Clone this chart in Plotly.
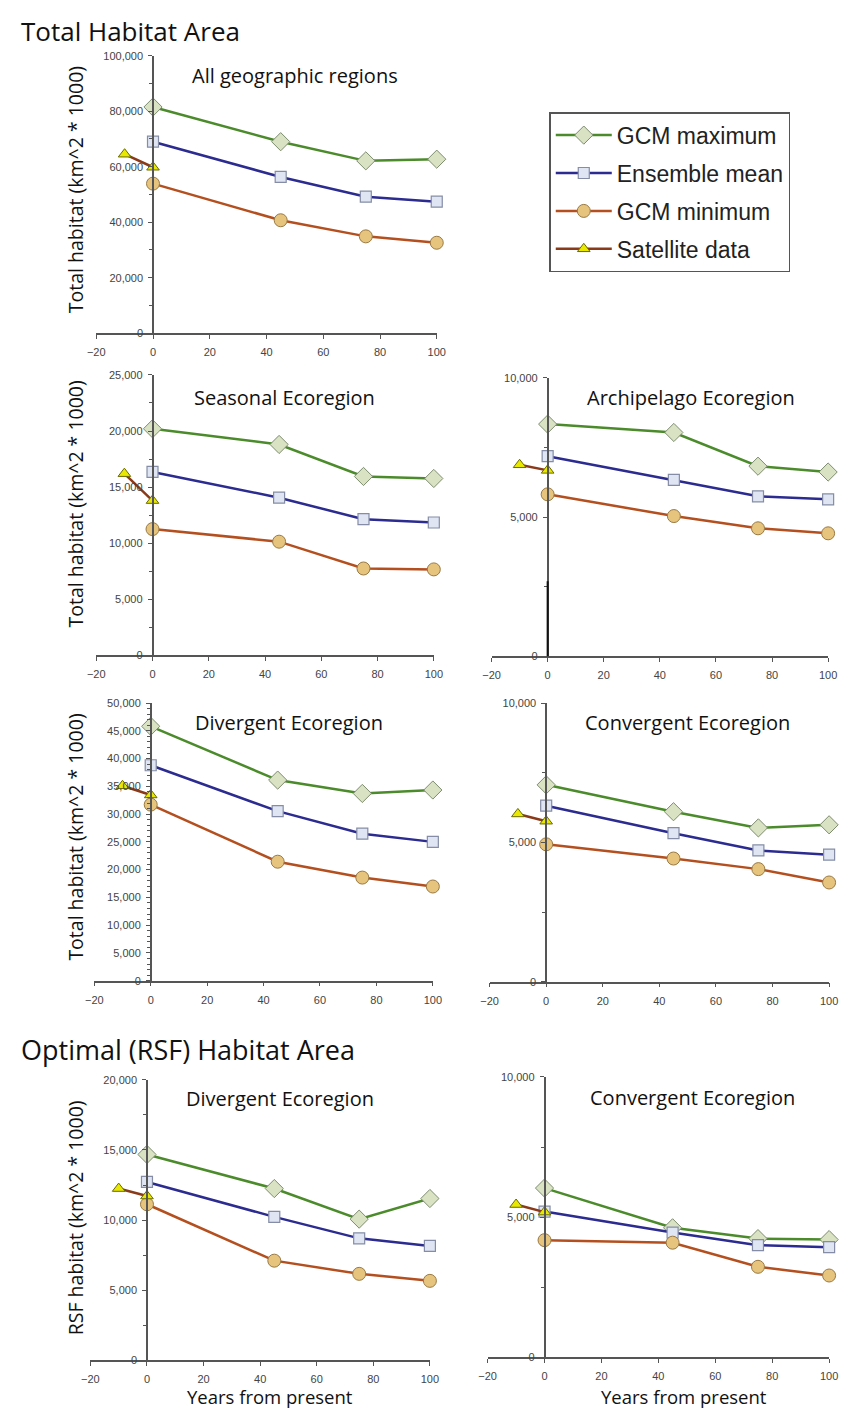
import plotly.graph_objects as go

# page is 851x1422; the browser adds an 8px body margin, so the figure is made
# 16px smaller and every reference pixel position is shifted by 8px.
OFF = 8
FW, FH = 835, 1406


def px(x):
    return (x - OFF) / FW


def py(y):
    return 1 - (y - OFF) / FH


# ---------------- data ----------------
years = [0, 45, 75, 100]
sat_years = [-10, 0]
x_ticks = [-20, 0, 20, 40, 60, 80, 100]

series_names = ["GCM maximum", "Ensemble mean", "GCM minimum", "Satellite data"]

all_max = [81500, 69000, 62100, 62700]
all_mean = [69000, 56300, 49200, 47400]
all_min = [53900, 40700, 34900, 32600]
all_sat = [64500, 59800]

sea_max = [20200, 18800, 15950, 15770]
sea_mean = [16350, 14060, 12140, 11850]
sea_min = [11260, 10140, 7750, 7670]
sea_sat = [16200, 13800]

arc_max = [8340, 8040, 6830, 6620]
arc_mean = [7190, 6340, 5750, 5640]
arc_min = [5820, 5040, 4600, 4420]
arc_sat = [6880, 6680]

div_max = [45820, 36130, 33720, 34340]
div_mean = [38800, 30530, 26480, 25000]
div_min = [31710, 21430, 18570, 16960]
div_sat = [35100, 33450]

con_max = [7065, 6100, 5520, 5630]
con_mean = [6316, 5330, 4710, 4560]
con_min = [4930, 4420, 4040, 3560]
con_sat = [6020, 5760]

rsfd_max = [14680, 12250, 10070, 11540]
rsfd_mean = [12720, 10230, 8700, 8160]
rsfd_min = [11130, 7110, 6170, 5670]
rsfd_sat = [12250, 11720]

rsfc_max = [6036, 4620, 4235, 4200]
rsfc_mean = [5200, 4450, 4000, 3930]
rsfc_min = [4180, 4090, 3230, 2920]
rsfc_sat = [5450, 5180]

panel_titles = ["All geographic regions", "Seasonal Ecoregion", "Archipelago Ecoregion",
                "Divergent Ecoregion", "Convergent Ecoregion",
                "Divergent Ecoregion", "Convergent Ecoregion"]
panel_ymax = [100000, 25000, 10000, 50000, 10000, 20000, 10000]
panel_dtick = [20000, 5000, 5000, 5000, 5000, 5000, 5000]
panel_minor = [10000, 2500, 2500, 1000, 2500, 2500, 2500]
panel_data = [
    (all_max, all_mean, all_min, all_sat),
    (sea_max, sea_mean, sea_min, sea_sat),
    (arc_max, arc_mean, arc_min, arc_sat),
    (div_max, div_mean, div_min, div_sat),
    (con_max, con_mean, con_min, con_sat),
    (rsfd_max, rsfd_mean, rsfd_min, rsfd_sat),
    (rsfc_max, rsfc_mean, rsfc_min, rsfc_sat),
]

# ---------------- layout (reference pixels) ----------------
boxes = [
    (89, 437, 50, 330),
    (89, 434, 372, 655),
    (493, 837, 375, 656),
    (87, 433, 703, 983),
    (491, 838, 703, 984),
    (83, 430, 1083, 1366),
    (489, 838, 1080, 1363),
]
title_pos = [(292, 70), (281, 395), (697, 395), (286, 723), (693, 723), (277, 1102), (698, 1101)]

styles = [
    dict(line=dict(color="#4b8b2b", width=2.5),
         marker=dict(symbol="diamond", size=14, color="#d9e3c4", line=dict(color="#7d8c6e", width=1))),
    dict(line=dict(color="#2b2b90", width=2.5),
         marker=dict(symbol="square", size=11, color="#dfe5f3", line=dict(color="#858da6", width=1.2))),
    dict(line=dict(color="#b4501f", width=2.5),
         marker=dict(symbol="circle", size=13, color="#e6c47e", line=dict(color="#9a7a44", width=1))),
    dict(line=dict(color="#8a3a18", width=2.5),
         marker=dict(symbol="triangle-up", size=11, color="#e8e800", line=dict(color="#6a6a00", width=1))),
]

fig = go.Figure()

tick_font = dict(family="Liberation Sans, Arial", size=11, color="#444")
text_font = "Open Sans, Noto Sans, sans-serif"

for i, (box, data) in enumerate(zip(boxes, panel_data)):
    k = i + 1
    xs = "" if k == 1 else str(k)
    x0, x1, yt, yb = box
    for j, vals in enumerate(data):
        xv = sat_years if j == 3 else years
        fig.add_trace(go.Scatter(
            x=xv, y=vals, mode="lines+markers", name=series_names[j],
            legendgroup=series_names[j], showlegend=(k == 1),
            line=styles[j]["line"], marker=styles[j]["marker"],
            cliponaxis=False, xaxis="x" + xs, yaxis="y" + xs,
        ))
    dx = [px(x0), px(x1)]
    dy = [py(yb), py(yt)]
    pos = dx[0] + (dx[1] - dx[0]) * 20 / 120
    fig.update_layout(**{
        "xaxis" + xs: dict(domain=dx, range=[-20, 100], anchor="y" + xs,
                           tickvals=x_ticks, showline=True, linecolor="#555", linewidth=1.5,
                           ticks="outside", ticklen=4, tickcolor="#555", showgrid=False,
                           zeroline=False, tickfont=tick_font, ticklabelstandoff=4),
        "yaxis" + xs: dict(domain=dy, range=[0, panel_ymax[i]], anchor="free", position=pos,
                           dtick=panel_dtick[i], tick0=0, tickformat=",d",
                           showline=True, linecolor="#555", linewidth=1.5,
                           ticks="outside", ticklen=4, tickcolor="#555", showgrid=False,
                           zeroline=False, tickfont=tick_font, ticklabelstandoff=3,
                           minor=dict(dtick=panel_minor[i], tick0=0, ticks="outside",
                                      ticklen=3, tickcolor="#555")),
    })

annotations = []
for (tx, ty), t in zip(title_pos, panel_titles):
    annotations.append(dict(text=t, x=px(tx), y=py(ty), xref="paper", yref="paper",
                            showarrow=False, xanchor="center", yanchor="middle",
                            font=dict(family=text_font, size=20, color="#111")))

annotations.append(dict(text="Total Habitat Area", x=px(10), y=py(25), xref="paper", yref="paper",
                        showarrow=False, xanchor="left", yanchor="middle",
                        font=dict(family=text_font, size=26, color="#111")))
annotations.append(dict(text="Optimal (RSF) Habitat Area", x=px(10), y=py(1052), xref="paper",
                        yref="paper", showarrow=False, xanchor="left", yanchor="middle",
                        font=dict(family=text_font, size=27, color="#111")))

ytitles = [("Total habitat (km^2 * 1000)", 185), ("Total habitat (km^2 * 1000)", 502),
           ("Total habitat (km^2 * 1000)", 838), ("RSF habitat (km^2 * 1000)", 1222)]
for t, cy in ytitles:
    annotations.append(dict(text=t, x=px(68), y=py(cy), xref="paper", yref="paper",
                            showarrow=False, textangle=-90, xanchor="center", yanchor="middle",
                            font=dict(family=text_font, size=19.5, color="#111")))

for cx in (267, 690):
    annotations.append(dict(text="Years from present", x=px(cx), y=py(1402), xref="paper",
                            yref="paper", showarrow=False, xanchor="center", yanchor="middle",
                            font=dict(family=text_font, size=18.5, color="#111")))

fig.update_layout(
    width=FW, height=FH, margin=dict(l=0, r=0, t=0, b=0),
    paper_bgcolor="white", plot_bgcolor="white",
    annotations=annotations,
    legend=dict(x=px(552), y=py(107), xanchor="left", yanchor="top",
                bordercolor="#555", borderwidth=1.5, bgcolor="white",
                font=dict(family="Liberation Sans, Arial", size=23, color="#222"),
                traceorder="grouped", tracegroupgap=5, itemwidth=56),
)

# dark segment on archipelago y-axis (as in the original)
fig.add_shape(type="line", xref="x3", yref="y3", x0=0, x1=0, y0=0, y1=2700,
              line=dict(color="#111", width=2))

fig.write_html("out.html")
